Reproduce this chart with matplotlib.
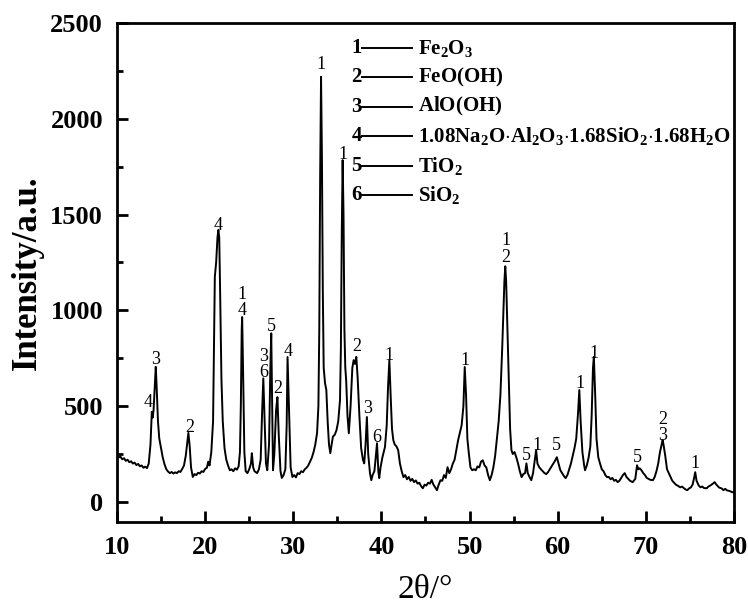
import matplotlib
matplotlib.use("Agg")
import matplotlib.pyplot as plt
from matplotlib.ticker import MultipleLocator

plt.rcParams['font.family'] = 'Liberation Serif'
plt.rcParams['mathtext.fontset'] = 'custom'
plt.rcParams['mathtext.rm'] = 'Liberation Serif'
plt.rcParams['mathtext.bf'] = 'Liberation Serif:bold'

# XRD pattern (2theta in degrees, intensity in counts)
two_theta = [
    10.0, 10.2, 10.4, 10.6, 10.8, 11.0, 11.2, 11.4, 11.6, 11.8, 12.0, 12.2, 12.4, 12.6, 12.8, 13.0,
    13.2, 13.4, 13.6, 13.8, 13.95, 14.05, 14.15, 14.3, 14.4, 14.5, 14.65, 14.8, 15.0, 15.2, 15.4,
    15.6, 15.8, 16.0, 16.2, 16.4, 16.6, 16.8, 17.0, 17.2, 17.4, 17.6, 17.8, 17.95, 18.1, 18.25,
    18.4, 18.6, 18.8, 19.0, 19.2, 19.4, 19.6, 19.8, 20.0, 20.2, 20.35, 20.5, 20.7, 20.9, 21.0,
    21.1, 21.25, 21.4, 21.5, 21.6, 21.7, 21.85, 22.0, 22.2, 22.4, 22.6, 22.8, 23.0, 23.2, 23.4,
    23.6, 23.8, 23.95, 24.05, 24.15, 24.2, 24.3, 24.45, 24.6, 24.8, 25.0, 25.2, 25.3, 25.45, 25.6,
    25.9, 26.1, 26.3, 26.45, 26.6, 26.75, 26.9, 27.05, 27.25, 27.4, 27.5, 27.6, 27.7, 27.85, 28.05,
    28.2, 28.35, 28.55, 28.7, 28.9, 29.1, 29.25, 29.35, 29.5, 29.7, 29.9, 30.1, 30.3, 30.5, 30.7,
    30.9, 31.1, 31.3, 31.5, 31.7, 31.9, 32.1, 32.3, 32.5, 32.7, 32.85, 32.95, 33.05, 33.15, 33.25,
    33.35, 33.45, 33.6, 33.75, 33.9, 34.05, 34.2, 34.35, 34.5, 34.7, 34.9, 35.1, 35.3, 35.4, 35.5,
    35.6, 35.7, 35.8, 35.9, 36.0, 36.15, 36.3, 36.5, 36.7, 36.85, 37.0, 37.15, 37.3, 37.5, 37.7,
    37.9, 38.05, 38.2, 38.35, 38.5, 38.7, 38.85, 39.0, 39.2, 39.35, 39.5, 39.65, 39.75, 39.9, 40.1,
    40.4, 40.6, 40.75, 40.9, 41.05, 41.2, 41.35, 41.5, 41.7, 41.9, 42.1, 42.3, 42.5, 42.7, 42.9,
    43.1, 43.3, 43.5, 43.7, 43.9, 44.1, 44.3, 44.5, 44.7, 44.9, 45.1, 45.3, 45.5, 45.7, 45.9, 46.1,
    46.3, 46.5, 46.7, 46.9, 47.1, 47.3, 47.5, 47.7, 47.9, 48.1, 48.3, 48.5, 48.7, 48.9, 49.1, 49.3,
    49.45, 49.6, 49.75, 49.9, 50.1, 50.3, 50.5, 50.7, 50.9, 51.1, 51.3, 51.5, 51.7, 51.9, 52.1,
    52.3, 52.5, 52.7, 52.9, 53.1, 53.3, 53.5, 53.7, 53.85, 53.95, 54.05, 54.15, 54.3, 54.45, 54.6,
    54.75, 54.9, 55.1, 55.3, 55.5, 55.7, 55.9, 56.1, 56.3, 56.45, 56.6, 56.8, 57.0, 57.2, 57.4,
    57.55, 57.7, 57.9, 58.1, 58.3, 58.5, 58.7, 58.9, 59.1, 59.3, 59.5, 59.7, 59.9, 60.1, 60.3,
    60.5, 60.7, 60.9, 61.1, 61.3, 61.5, 61.7, 61.9, 62.1, 62.3, 62.45, 62.6, 62.8, 63.0, 63.1,
    63.3, 63.5, 63.7, 63.85, 64.0, 64.1, 64.25, 64.4, 64.6, 64.8, 65.0, 65.2, 65.4, 65.6, 65.8,
    66.0, 66.2, 66.4, 66.6, 66.8, 67.0, 67.2, 67.4, 67.6, 67.8, 68.0, 68.2, 68.5, 68.8, 69.0,
    69.15, 69.3, 69.5, 69.7, 69.9, 70.1, 70.3, 70.5, 70.8, 71.0, 71.2, 71.4, 71.6, 71.8, 71.9,
    72.0, 72.2, 72.4, 72.6, 72.8, 73.0, 73.2, 73.4, 73.6, 73.9, 74.1, 74.3, 74.5, 74.7, 74.9,
    75.1, 75.3, 75.45, 75.6, 75.75, 76.0, 76.2, 76.4, 76.6, 76.9, 77.1, 77.3, 77.6, 77.8, 78.0,
    78.3, 78.6, 78.8, 79.0, 79.2, 79.4, 79.6, 79.8, 80.0,
]
intensity = [
    243, 232, 236, 222, 228, 214, 220, 207, 212, 200, 205, 192, 198, 186, 190, 178,
    184, 176, 200, 300, 470, 440, 480, 620, 705, 600, 420, 330, 280, 230, 195,
    170, 158, 150, 156, 148, 154, 150, 160, 156, 172, 190, 240, 300, 360, 290,
    180, 130, 145, 140, 152, 148, 160, 156, 172, 178, 210, 190, 260, 420, 800,
    1175, 1250, 1380, 1420, 1380, 1100, 640, 420, 280, 220, 190, 165, 170, 160, 175,
    168, 185, 260, 500, 900, 965, 700, 260, 160, 150, 170, 200, 254, 180, 160,
    150, 170, 220, 450, 645, 420, 200, 165, 300, 700, 880, 500, 165, 250, 480,
    547, 350, 160, 125, 140, 170, 400, 756, 500, 180, 130, 140, 128, 150, 145,
    160, 155, 170, 178, 190, 210, 230, 260, 300, 360, 500, 900, 1700, 2219, 1800,
    1100, 700, 620, 584, 420, 300, 254, 300, 341, 350, 374, 420, 531, 800, 1400,
    1784, 1500, 900, 700, 636, 450, 358, 500, 700, 740, 720, 757, 650, 450, 280,
    220, 201, 300, 443, 250, 150, 113, 140, 160, 230, 306, 160, 124, 180, 230,
    286, 400, 600, 740, 550, 380, 322, 300, 290, 270, 200, 160, 129, 140, 118,
    130, 110, 120, 103, 112, 95, 100, 82, 71, 90, 85, 100, 95, 115, 90, 75,
    61, 90, 113, 110, 140, 125, 181, 150, 170, 200, 220, 270, 322, 360, 400, 500,
    704, 560, 330, 260, 180, 165, 170, 165, 185, 180, 210, 217, 190, 180, 140,
    113, 140, 180, 240, 330, 420, 560, 800, 1000, 1150, 1230, 1150, 900, 650, 380,
    270, 250, 260, 233, 200, 160, 129, 145, 150, 201, 150, 130, 113, 150, 220,
    270, 200, 181, 170, 160, 150, 145, 155, 170, 185, 200, 215, 233, 200, 165,
    150, 135, 124, 140, 170, 200, 240, 280, 330, 460, 584, 420, 260, 190, 165,
    190, 230, 290, 450, 700, 757, 560, 330, 233, 200, 170, 160, 140, 129, 130,
    118, 125, 110, 115, 103, 110, 125, 140, 150, 130, 120, 110, 103, 120, 191,
    170, 175, 165, 150, 140, 125, 120, 115, 113, 130, 160, 200, 260, 300, 322,
    300, 240, 170, 150, 130, 110, 100, 90, 85, 76, 80, 72, 65, 61, 70,
    75, 90, 120, 155, 110, 85, 76, 80, 72, 71, 80, 85, 95, 103, 90,
    75, 70, 61, 68, 60, 58, 55, 50, 52,
]

# phase markers above the peaks
peak_x = [13.5, 14.4, 18.2, 21.5, 24.2, 26.6, 27.5, 28.2, 29.4, 33.1, 35.6, 37.2, 38.4,
          39.5, 40.8, 49.5, 54.1, 56.5, 57.6, 59.9, 62.5, 64.1, 69.0, 71.9, 75.6]
peak_y = [521, 741, 390, 1445, 1040, 718, 913, 594, 787, 2282, 1816, 813, 489,
          338, 766, 740, 1320, 244, 296, 296, 620, 777, 233, 388, 201]
peak_text = ['4', '3', '2', '4', '1\n4', '3\n6', '5', '2', '4', '1', '1', '2', '3',
             '6', '1', '1', '1\n2', '5', '1', '5', '1', '1', '5', '2\n3', '1']

phase_ids = ['1', '2', '3', '4', '5', '6']
phase_names = [r'$\mathbf{Fe_2O_3}$', r'$\mathbf{FeO(OH)}$', r'$\mathbf{AlO(OH)}$',
               r'$\mathbf{1.08Na_2O{\cdot}Al_2O_3{\cdot}1.68SiO_2{\cdot}1.68H_2O}$',
               r'$\mathbf{TiO_2}$', r'$\mathbf{SiO_2}$']

fig = plt.figure(figsize=(7.48, 6.12), dpi=100)
ax = fig.add_axes([0.1564, 0.1471, 0.8249, 0.8153])

ax.plot(two_theta, intensity, color='black', linewidth=1.4)

for x, y, t in zip(peak_x, peak_y, peak_text):
    ax.text(x, y, t, ha='center', va='center', fontsize=13, linespacing=0.95)

# phase key in the upper part of the axes
for i, (pid, name) in enumerate(zip(phase_ids, phase_names)):
    yc = 1 - (25 + 29.4 * i) / 499
    ax.text(0.397, yc, pid, transform=ax.transAxes, ha='right', va='center',
            fontsize=15, fontweight='bold')
    ax.plot([0.397, 0.478], [yc, yc], transform=ax.transAxes, color='black', linewidth=1.4)
    ax.text(0.488, yc, name, transform=ax.transAxes, ha='left', va='center', fontsize=15)

ax.set_xlim(10, 80)
ax.set_ylim(-105, 2500)
ax.xaxis.set_major_locator(MultipleLocator(10))
ax.xaxis.set_minor_locator(MultipleLocator(5))
ax.yaxis.set_major_locator(MultipleLocator(500))
ax.yaxis.set_minor_locator(MultipleLocator(250))
ax.tick_params(which='both', direction='in', top=False, right=False, width=2)
ax.tick_params(which='major', length=8, labelsize=19, pad=10)
ax.tick_params(which='minor', length=4)
for lab in ax.get_xticklabels() + ax.get_yticklabels():
    lab.set_fontweight('bold')
for sp in ax.spines.values():
    sp.set_linewidth(2)

ax.set_xlabel('2θ/°', fontsize=24)
ax.xaxis.set_label_coords(0.5, -0.105)
ax.set_ylabel('Intensity/a.u.', fontsize=25, fontweight='bold')
ax.yaxis.set_label_coords(-0.118, 0.5)

fig.savefig('out.png', dpi=100)
